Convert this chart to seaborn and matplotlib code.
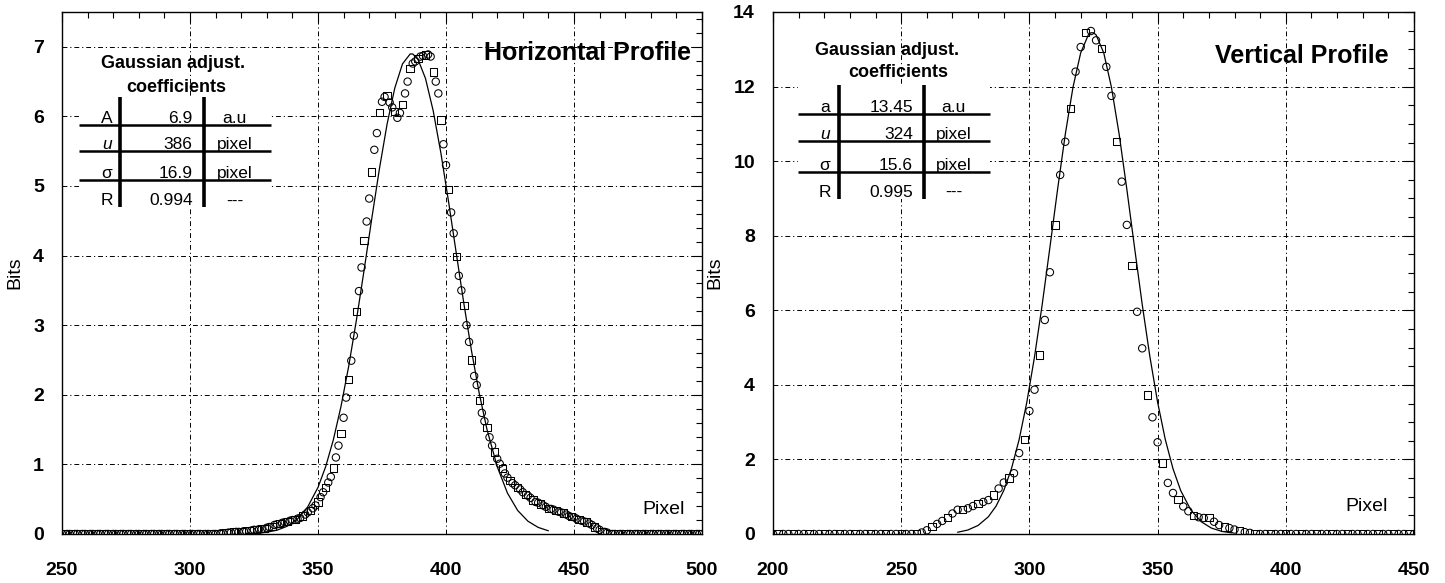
import numpy as np
import pandas as pd
import matplotlib
matplotlib.use("Agg")
import matplotlib.pyplot as plt
import seaborn as sns
from matplotlib.ticker import MultipleLocator
from matplotlib.patches import Rectangle

# ---------------- data ----------------
# Horizontal profile: one sample per pixel, 250..500
h_pixels = list(range(250, 501))
h_bits = [
    0, 0, 0, 0, 0, 0, 0, 0, 0, 0, 0, 0, 0, 0, 0, 0, 0, 0, 0, 0,
    0, 0, 0, 0, 0, 0, 0, 0, 0, 0, 0, 0, 0, 0, 0, 0, 0, 0, 0, 0,
    0, 0, 0, 0, 0, 0, 0, 0, 0, 0, 0, 0, 0, 0, 0, 0, 0, 0, 0, 0,
    0, 0,
    0.01, 0.01, 0.02, 0.02, 0.02, 0.03, 0.03, 0.03, 0.04, 0.04,
    0.04, 0.05, 0.05, 0.06, 0.06, 0.07, 0.07, 0.08, 0.09, 0.10,
    0.11, 0.13, 0.14, 0.15, 0.16, 0.17, 0.18, 0.19, 0.20, 0.21,
    0.22, 0.23, 0.26, 0.28, 0.31, 0.34, 0.37, 0.41, 0.46, 0.53,
    0.60, 0.67, 0.74, 0.82, 0.95, 1.10, 1.27, 1.44, 1.67, 1.96,
    2.22, 2.49, 2.85, 3.20, 3.49, 3.83, 4.22, 4.49, 4.82, 5.20,
    5.52, 5.76, 6.06, 6.21, 6.28, 6.30, 6.20, 6.13, 6.07, 5.98,
    6.05, 6.17, 6.33, 6.50, 6.69, 6.76, 6.79, 6.83, 6.86, 6.87,
    6.88, 6.89, 6.86, 6.64, 6.50, 6.33, 5.95, 5.60, 5.30, 4.95,
    4.62, 4.32, 3.99, 3.71, 3.50, 3.28, 3.00, 2.76, 2.50, 2.27,
    2.14, 1.92, 1.74, 1.62, 1.53, 1.39, 1.27, 1.18, 1.08, 1.01,
    0.94, 0.87, 0.81, 0.77, 0.73, 0.70, 0.67, 0.64, 0.60, 0.57,
    0.55, 0.52, 0.49, 0.46, 0.45, 0.43, 0.41, 0.39, 0.37, 0.36,
    0.35, 0.34, 0.32, 0.31, 0.30, 0.28, 0.26, 0.25, 0.24, 0.22,
    0.21, 0.19, 0.18, 0.17, 0.15, 0.13, 0.10, 0.08, 0.06, 0.04,
    0.03, 0.02, 0.01,
    0, 0, 0, 0, 0, 0, 0, 0, 0, 0, 0, 0, 0, 0, 0, 0, 0, 0,
    0, 0, 0, 0, 0, 0, 0, 0, 0, 0, 0, 0, 0, 0, 0, 0, 0, 0,
]
h_fit_x = [322, 326, 330, 334, 338, 342, 346, 350, 353, 356, 359, 362, 365,
           368, 371, 374, 377, 380, 383, 386, 387, 389, 392, 395, 398, 401,
           404, 407, 410, 413, 416, 420, 424, 428, 432, 436, 440]
h_fit_y = [0.005, 0.011, 0.026, 0.055, 0.112, 0.215, 0.391, 0.670, 0.968,
           1.354, 1.836, 2.412, 3.073, 3.789, 4.531, 5.249, 5.892, 6.408,
           6.754, 6.897, 6.897, 6.825, 6.544, 6.080, 5.474, 4.775, 4.037,
           3.306, 2.624, 2.018, 1.504, 0.968, 0.588, 0.338, 0.184, 0.095,
           0.046]

# Vertical profile: one sample every two pixels, 200..450
v_pixels = list(range(200, 451, 2))
v_bits = [
    0, 0, 0, 0, 0, 0, 0, 0, 0, 0, 0, 0, 0, 0, 0, 0, 0, 0, 0, 0,
    0, 0, 0, 0, 0, 0, 0, 0, 0,
    0.04, 0.10, 0.20, 0.27, 0.35, 0.45, 0.55, 0.65, 0.66, 0.69,
    0.75, 0.82, 0.86, 0.91, 1.05, 1.22, 1.38, 1.50, 1.63, 2.17,
    2.53, 3.30, 3.87, 4.80, 5.74, 7.02, 8.29, 9.63, 10.52, 11.41,
    12.40, 13.06, 13.45, 13.49, 13.24, 13.02, 12.53, 11.75, 10.52, 9.45,
    8.29, 7.20, 5.96, 4.98, 3.73, 3.13, 2.46, 1.90, 1.37, 1.10,
    0.92, 0.74, 0.61, 0.50, 0.45, 0.43, 0.45, 0.33, 0.24, 0.19,
    0.16, 0.12, 0.09, 0.05, 0.03, 0.01,
    0, 0, 0, 0, 0, 0, 0, 0, 0, 0, 0, 0, 0, 0, 0, 0, 0, 0, 0, 0,
    0, 0, 0, 0, 0, 0, 0, 0, 0, 0, 0,
]
v_fit_x = [272, 276, 280, 284, 287, 290, 293, 296, 299, 302, 305, 308, 311,
           314, 317, 320, 323, 324, 325, 326, 329, 332, 335, 338, 341, 344,
           347, 350, 353, 356, 359, 363, 367, 371, 375, 379]
v_fit_y = [0.047, 0.107, 0.230, 0.463, 0.748, 1.166, 1.751, 2.534, 3.536,
           4.753, 6.157, 7.688, 9.248, 10.724, 11.981, 12.903, 13.388, 13.443,
           13.443, 13.388, 12.903, 11.981, 10.724, 9.248, 7.688, 6.157, 4.753,
           3.536, 2.534, 1.751, 1.166, 0.640, 0.329, 0.158, 0.071, 0.030]

# Table contents
h_table_names = ["A", "u", "σ", "R"]
h_table_values = ["6.9", "386", "16.9", "0.994"]
h_table_units = ["a.u", "pixel", "pixel", "---"]
v_table_names = ["a", "u", "σ", "R"]
v_table_values = ["13.45", "324", "15.6", "0.995"]
v_table_units = ["a.u", "pixel", "pixel", "---"]

# ---------------- style ----------------
sns.set_theme(style="white")
plt.rcParams['font.family'] = ['Liberation Sans', 'DejaVu Sans']
plt.rcParams['axes.edgecolor'] = 'black'
plt.rcParams['axes.linewidth'] = 1.0
plt.rcParams['text.color'] = 'black'
plt.rcParams['axes.labelcolor'] = 'black'
plt.rcParams['xtick.color'] = 'black'
plt.rcParams['ytick.color'] = 'black'
plt.rcParams['xtick.labelcolor'] = 'black'
plt.rcParams['ytick.labelcolor'] = 'black'

fig = plt.figure(figsize=(14.45, 5.83), dpi=100)
ax_h = fig.add_axes([62 / 1445, 49 / 583, 640 / 1445, 522 / 583])
ax_v = fig.add_axes([773 / 1445, 49 / 583, 641 / 1445, 522 / 583])

GRID_LS = (0, (5, 3, 1.2, 3))


def draw_panel(ax, px, bits, fx, fy, xlim, ylim, xmaj, xmin, ymaj, ymin):
    n = len(px)
    shape = np.where(np.arange(n) % 3 == 1, "square", "circle")
    df = pd.DataFrame({"pixel": px, "bits": bits, "shape": shape})
    sns.scatterplot(data=df, x="pixel", y="bits", style="shape",
                    markers={"circle": "o", "square": "s"}, s=28,
                    facecolor="none", edgecolor="black", linewidth=0.75,
                    legend=False, ax=ax, zorder=3)
    sns.lineplot(x=fx, y=fy, color="black", linewidth=0.9, ax=ax, zorder=3)
    ax.set_xlim(*xlim)
    ax.set_ylim(*ylim)
    ax.xaxis.set_major_locator(MultipleLocator(xmaj))
    ax.xaxis.set_minor_locator(MultipleLocator(xmin))
    ax.yaxis.set_major_locator(MultipleLocator(ymaj))
    ax.yaxis.set_minor_locator(MultipleLocator(ymin))
    ax.grid(True, which="major", color="black", linestyle=GRID_LS,
            linewidth=0.7)
    ax.set_axisbelow(True)
    ax.tick_params(which="both", direction="in", top=True, right=True,
                   color="black", labelcolor="black", width=0.8)
    ax.tick_params(which="major", length=7)
    ax.tick_params(which="minor", length=4.5)
    ax.tick_params(axis="x", which="major", pad=20)
    ax.tick_params(axis="y", which="major", pad=13)
    for lab in ax.get_xticklabels() + ax.get_yticklabels():
        lab.set_fontweight("bold")
        lab.set_fontsize(14)
        lab.set_color("black")
    ax.set_xlabel("")
    ax.set_ylabel("Bits", fontsize=14, labelpad=7, color="black")
    for sp in ax.spines.values():
        sp.set_color("black")
        sp.set_linewidth(1.0)


def draw_table(ax, names, values, units, title_xy, coef_xy, box, vlines,
               hlines, row_y, name_x, value_x, unit_x):
    x0, x1, y0, y1 = box
    ax.add_patch(Rectangle((x0, y0), x1 - x0, y1 - y0, facecolor="white",
                           edgecolor="none", zorder=2.5))
    ax.text(*title_xy, "Gaussian adjust.", ha="center", va="center",
            fontsize=13, fontweight="bold", color="black", zorder=4)
    ax.text(*coef_xy, "coefficients", ha="center", va="center",
            fontsize=13, fontweight="bold", color="black", zorder=4)
    for vx in vlines:
        ax.plot([vx, vx], [y0, y1], color="black",
                linewidth=2.6, solid_capstyle="butt", zorder=4)
    for hy in hlines:
        ax.plot([x0, x1], [hy, hy], color="black", linewidth=1.8,
                solid_capstyle="butt", zorder=4)
    for i, (nm, val, un) in enumerate(zip(names, values, units)):
        style = "italic" if nm == "u" else "normal"
        ax.text(name_x, row_y[i], nm, ha="center", va="baseline",
                fontsize=12.5, style=style, color="black", zorder=5)
        ax.text(value_x, row_y[i], val, ha="right", va="baseline",
                fontsize=12.5, color="black", zorder=5)
        ax.text(unit_x, row_y[i], un, ha="center", va="baseline",
                fontsize=12.5, color="black", zorder=5)


draw_panel(ax_h, h_pixels, h_bits, h_fit_x, h_fit_y, (250, 500), (0, 7.5),
           50, 10, 1, 0.2)
draw_panel(ax_v, v_pixels, v_bits, v_fit_x, v_fit_y, (200, 450), (0, 14),
           50, 10, 2, 0.5)

draw_table(ax_h, h_table_names, h_table_values, h_table_units,
           title_xy=(293.5, 6.76), coef_xy=(294.8, 6.42),
           box=(256.5, 331.5, 4.70, 6.28), vlines=(272.6, 305.5),
           hlines=(5.88, 5.51, 5.09), row_y=(5.90, 5.53, 5.11, 4.72),
           name_x=267.5, value_x=301.0, unit_x=317.5)
draw_table(ax_v, v_table_names, v_table_values, v_table_units,
           title_xy=(244.3, 12.96), coef_xy=(248.9, 12.38),
           box=(209.8, 284.6, 8.99, 12.03), vlines=(225.9, 258.9),
           hlines=(11.27, 10.55, 9.71), row_y=(11.31, 10.59, 9.75, 9.03),
           name_x=220.3, value_x=254.6, unit_x=270.5)

ax_h.text(495.7, 6.91, "Horizontal Profile", ha="right", va="center",
          fontsize=18, fontweight="bold", color="black", zorder=4)
ax_v.text(440.2, 12.81, "Vertical Profile", ha="right", va="center",
          fontsize=18, fontweight="bold", color="black", zorder=4)
ax_h.text(493.4, 0.354, "Pixel", ha="right", va="center", fontsize=14,
          color="black", zorder=4)
ax_v.text(439.9, 0.74, "Pixel", ha="right", va="center", fontsize=14,
          color="black", zorder=4)

fig.savefig("out.png", dpi=100, facecolor="white")
